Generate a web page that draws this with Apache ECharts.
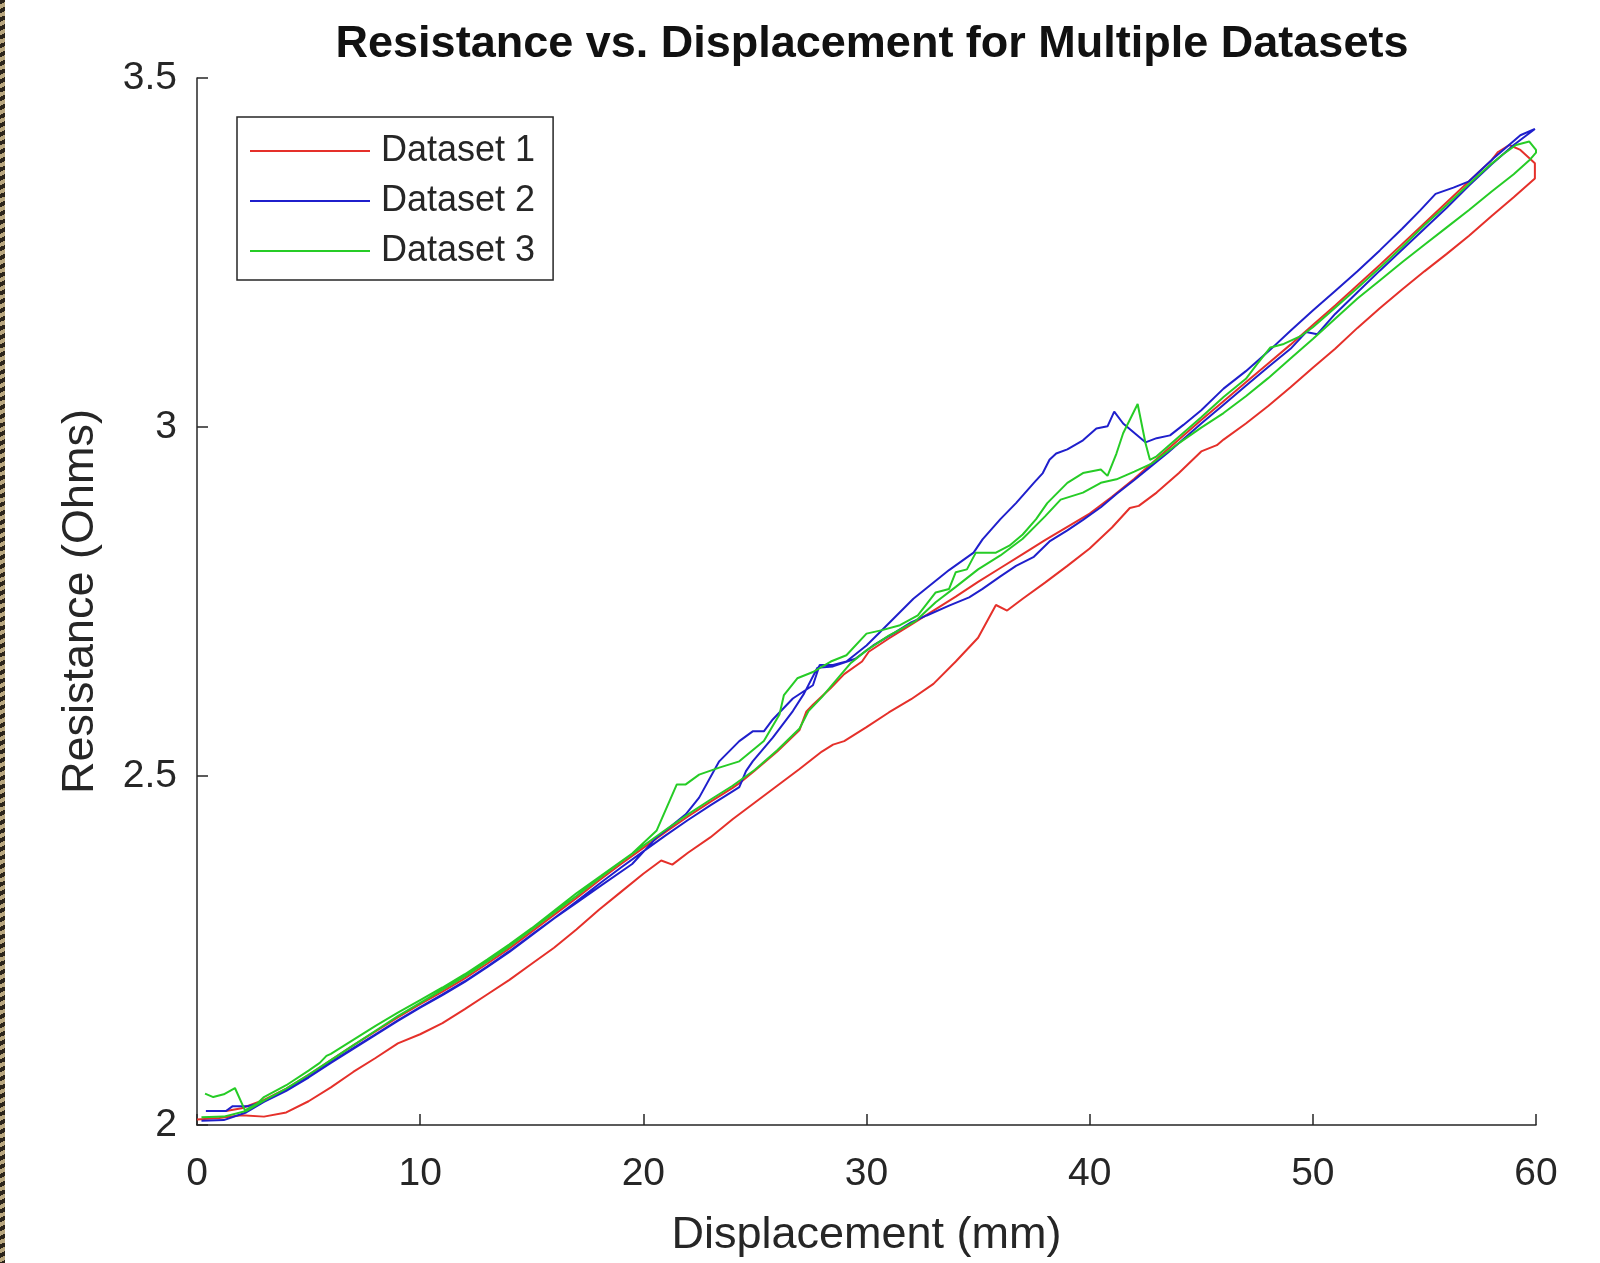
<!DOCTYPE html>
<html>
<head>
    <meta charset="utf-8">
    <title>Resistance vs. Displacement</title>
    <script src="https://cdn.jsdelivr.net/npm/echarts/dist/echarts.min.js"></script>
    <style>
        body { margin: 0; background: #fff; }
        #chart { position: absolute; left: 0; top: 0; width: 1600px; height: 1263px; }
        /* frame edge seen on the left of the screenshot */
        .edge { position: absolute; left: 0; top: 0; width: 5px; height: 1263px; z-index: 2;
            background: repeating-linear-gradient(155deg, #2b241b 0px, #2b241b 4px, #b9a77f 4px, #b9a77f 8px); }
    </style>
</head>
<body>
    <div class="edge"></div>
    <div id="chart"></div>
    <script>
        // each dataset is a loop: one pass up to 60 mm and one pass back down to 0
        var red_up = [[0,2.008],[1,2.01],[2,2.014],[3,2.012],[4,2.018],[5,2.034],[6,2.054],[7,2.076],[8,2.096],[9,2.117],[10,2.13],
            [11,2.146],[12,2.166],[13,2.187],[14,2.208],[15,2.231],[16,2.254],[17,2.28],[18,2.308],[19,2.334],[20,2.36],[20.8,2.379],
            [21.3,2.373],[22,2.39],[23,2.412],[24,2.438],[25,2.462],[26,2.486],[27,2.51],[28,2.535],[28.5,2.545],[29,2.55],[30,2.57],
            [31,2.591],[32,2.61],[33,2.632],[34,2.664],[35,2.698],[35.8,2.745],[36.3,2.737],[37,2.754],[38,2.777],[39,2.801],[40,2.826],
            [41,2.856],[41.8,2.884],[42.2,2.887],[43,2.906],[44,2.934],[45,2.965],[45.7,2.974],[46,2.982],[47,3.005],[48,3.03],[49,3.057],
            [50,3.085],[51,3.112],[52,3.142],[53,3.17],[54,3.197],[55,3.223],[56,3.248],[57,3.274],[58,3.302],[59,3.329],[59.95,3.356]];
        var red_down = [[59.95,3.378],[59.3,3.397],[58.8,3.404],[58.3,3.394],[58,3.382],[57,3.352],[56,3.322],[55,3.292],[54,3.262],
            [53,3.232],[52,3.203],[51,3.174],[50,3.146],[49,3.118],[48,3.091],[47,3.064],[46,3.037],[45,3.01],[44,2.982],[43,2.954],
            [42,2.926],[41,2.9],[40,2.876],[39,2.857],[38,2.838],[37,2.818],[36,2.798],[35,2.778],[34,2.757],[33,2.737],[32,2.717],
            [31,2.697],[30.1,2.678],[29.8,2.664],[29,2.646],[28.4,2.626],[27.6,2.602],[27.3,2.592],[27,2.566],[26,2.535],[25,2.508],
            [24.4,2.492],[24,2.483],[23,2.463],[22,2.442],[21,2.42],[20,2.397],[19,2.374],[18,2.35],[17,2.325],[16,2.301],[15,2.277],
            [14,2.253],[13,2.231],[12,2.21],[11,2.191],[10,2.173],[9,2.154],[8,2.134],[7,2.114],[6,2.093],[5,2.072],[4,2.052],
            [3,2.036],[2,2.024],[1.3,2.02],[0.4,2.02]];

        var blue_up = [[0.2,2.006],[1.2,2.007],[2.2,2.018],[3,2.033],[4,2.049],[5,2.068],[6,2.089],[7,2.109],[8,2.129],[9,2.149],
            [10,2.168],[11,2.186],[12,2.205],[13,2.226],[14,2.248],[15,2.272],[16,2.296],[17,2.32],[18,2.345],[19,2.369],[20,2.392],
            [21,2.415],[22,2.437],[23,2.458],[24,2.478],[24.3,2.484],[24.6,2.507],[24.9,2.521],[25.8,2.555],[26.7,2.593],[27.2,2.618],
            [27.8,2.655],[28.5,2.657],[29.5,2.668],[30.3,2.687],[31.3,2.706],[32,2.72],[32.7,2.73],[33.7,2.744],[34.6,2.756],[35.2,2.768],
            [36,2.786],[36.7,2.801],[37.5,2.814],[38.2,2.836],[39,2.852],[39.7,2.867],[40.5,2.885],[41.2,2.904],[42,2.924],[42.8,2.945],
            [43.5,2.963],[44,2.977],[45,3.005],[46,3.032],[47,3.059],[48,3.086],[49,3.112],[49.7,3.136],[50.2,3.133],[51,3.162],
            [52,3.193],[53,3.224],[54,3.254],[55,3.284],[56,3.314],[57,3.346],[58,3.376],[59,3.404],[59.95,3.427]];
        var blue_down = [[59.95,3.427],[59.3,3.418],[58.1,3.385],[57,3.352],[56.3,3.343],[55.5,3.334],[54.8,3.31],[54,3.284],
            [53,3.253],[52,3.223],[51,3.195],[50,3.167],[49,3.138],[48,3.108],[47,3.08],[46,3.055],[45,3.024],[44.2,3.003],[43.6,2.988],
            [43,2.984],[42.5,2.978],[41.5,3.005],[41.1,3.022],[40.8,3.001],[40.3,2.998],[39.7,2.981],[39,2.968],[38.5,2.962],[38.2,2.953],
            [37.9,2.934],[37.5,2.92],[36.7,2.891],[36,2.868],[35.2,2.839],[34.8,2.82],[33.7,2.795],[32.1,2.754],[30.6,2.706],[30,2.687],
            [29.1,2.664],[28.5,2.659],[27.9,2.659],[27.6,2.63],[26.7,2.611],[25.8,2.581],[25.4,2.564],[24.9,2.564],[24.3,2.55],
            [23.4,2.521],[22.5,2.469],[21.9,2.445],[21,2.422],[20.6,2.412],[19.5,2.374],[18.1,2.343],[17,2.318],[16,2.296],[15,2.273],
            [14,2.249],[13,2.227],[12,2.206],[11,2.187],[10,2.169],[9,2.15],[8,2.13],[7,2.11],[6,2.09],[5,2.069],[4,2.05],[3,2.033],
            [2.3,2.027],[1.6,2.027],[1.3,2.02],[0.4,2.02]];

        var green_up = [[0.2,2.011],[1.2,2.012],[2.2,2.02],[3,2.035],[4,2.052],[5,2.072],[6,2.093],[7,2.114],[8,2.135],[9,2.156],
            [10,2.175],[11,2.194],[12,2.213],[13,2.234],[14,2.256],[15,2.28],[16,2.304],[17,2.328],[18,2.353],[19,2.377],[20,2.4],
            [21,2.423],[22,2.445],[23,2.466],[24,2.486],[25,2.509],[26,2.537],[27,2.568],[27.4,2.593],[28,2.613],[28.5,2.632],
            [29.3,2.662],[30,2.68],[31,2.701],[32.2,2.722],[33.1,2.749],[34,2.771],[35,2.796],[36,2.816],[37,2.84],[38,2.872],
            [38.7,2.896],[39.7,2.906],[40.5,2.92],[41.2,2.925],[42,2.936],[42.8,2.948],[44,2.977],[45,2.999],[46,3.02],[47,3.044],
            [48,3.07],[49,3.098],[50,3.126],[51,3.155],[52,3.184],[53,3.21],[54,3.236],[55,3.261],[56,3.286],[57,3.311],[58,3.337],
            [59,3.362],[59.7,3.382],[60,3.393]];
        var green_down = [[60,3.397],[59.7,3.409],[59.1,3.404],[58.5,3.39],[58,3.377],[57,3.348],[56,3.318],[55,3.289],[54,3.258],
            [53,3.228],[52,3.199],[51,3.171],[50,3.143],[49.5,3.131],[48.7,3.119],[48.1,3.114],[47.5,3.09],[47,3.069],[46,3.043],
            [45,3.014],[44,2.986],[43,2.958],[42.7,2.953],[42.5,2.977],[42.15,3.033],[41.5,2.991],[41.2,2.962],[40.8,2.93],[40.5,2.939],
            [39.7,2.934],[39,2.92],[38.1,2.891],[37.6,2.868],[37,2.846],[36.4,2.83],[35.8,2.82],[34.9,2.82],[34.5,2.796],[34,2.792],
            [33.7,2.768],[33.1,2.763],[32.3,2.73],[31.5,2.716],[30.7,2.709],[30,2.704],[29.1,2.673],[28.4,2.664],[27.6,2.649],
            [26.9,2.64],[26.3,2.616],[26.1,2.588],[25.4,2.55],[24.3,2.521],[23.4,2.512],[22.5,2.502],[21.9,2.488],[21.5,2.488],
            [20.6,2.422],[19.5,2.389],[18.1,2.357],[17,2.332],[16,2.307],[15,2.282],[14,2.259],[13,2.237],[12,2.216],[11,2.197],
            [10,2.179],[9,2.161],[8,2.142],[7,2.122],[6,2.102],[5.8,2.099],[5.5,2.089],[5,2.078],[4,2.057],[3,2.04],[2.7,2.031],
            [2.15,2.021],[1.7,2.053],[1.2,2.044],[0.73,2.04],[0.36,2.045]];

        var names = ['Dataset 1', 'Dataset 2', 'Dataset 3'];
        var colors = ['#e5302a', '#1f1fcc', '#26cc26'];
        var loops = [red_up.concat(red_down), blue_up.concat(blue_down), green_up.concat(green_down)];

        var font = '"Liberation Sans", Arial, Helvetica, sans-serif';
        var ink = '#262626';

        var chart = echarts.init(document.getElementById('chart'));
        var option = {
            animation: false,
            backgroundColor: '#fff',
            title: {
                text: 'Resistance vs. Displacement for Multiple Datasets',
                left: 867,
                top: 17,
                textAlign: 'center',
                textStyle: { fontFamily: font, fontSize: 45, fontWeight: 'bold', color: '#111' }
            },
            grid: { left: 197, right: 64, top: 78, bottom: 130, containLabel: false },
            legend: {
                orient: 'vertical',
                left: 237,
                top: 117,
                data: names,
                icon: 'rect',
                itemWidth: 120,
                itemHeight: 2,
                itemGap: 14,
                padding: [16, 18, 11, 13],
                borderColor: ink,
                borderWidth: 1.5,
                backgroundColor: '#fff',
                textStyle: { fontFamily: font, fontSize: 36, color: ink, padding: [0, 0, 0, 6] }
            },
            xAxis: {
                type: 'value',
                min: 0,
                max: 60,
                interval: 10,
                name: 'Displacement (mm)',
                nameLocation: 'middle',
                nameGap: 88,
                nameTextStyle: { fontFamily: font, fontSize: 45, color: ink },
                axisLine: { show: true, onZero: false, lineStyle: { color: ink, width: 1.5 } },
                axisTick: { show: true, inside: true, length: 11, lineStyle: { color: ink, width: 1.5 } },
                axisLabel: { fontFamily: font, fontSize: 39, color: ink, margin: 30 },
                splitLine: { show: false }
            },
            yAxis: {
                type: 'value',
                min: 2,
                max: 3.5,
                interval: 0.5,
                name: 'Resistance (Ohms)',
                nameLocation: 'middle',
                nameGap: 94,
                nameTextStyle: { fontFamily: font, fontSize: 45, color: ink },
                axisLine: { show: true, onZero: false, lineStyle: { color: ink, width: 1.5 } },
                axisTick: { show: true, inside: true, length: 11, lineStyle: { color: ink, width: 1.5 } },
                axisLabel: { fontFamily: font, fontSize: 39, color: ink, margin: 20, padding: [8, 0, 0, 0] },
                splitLine: { show: false }
            },
            series: names.map(function (n, i) {
                return {
                    name: n,
                    type: 'line',
                    data: loops[i],
                    color: colors[i],
                    showSymbol: false,
                    symbol: 'none',
                    lineStyle: { width: 2, color: colors[i] },
                    z: 2 + i
                };
            })
        };
        chart.setOption(option);
    </script>
</body>
</html>
